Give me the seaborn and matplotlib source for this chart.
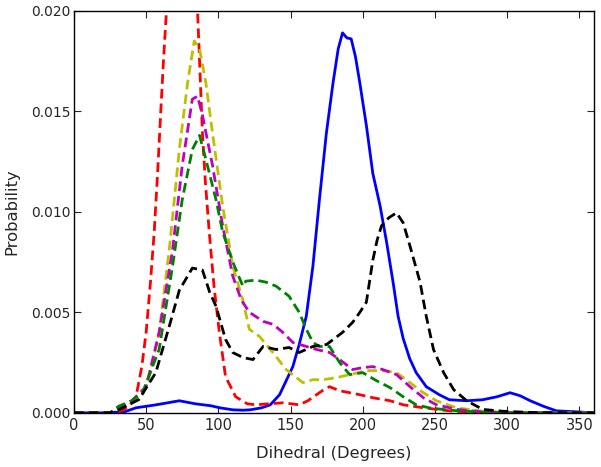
import matplotlib
matplotlib.use("Agg")
import matplotlib.pyplot as plt
import seaborn as sns
from matplotlib.ticker import FormatStrFormatter

# Dihedral angle distributions (degrees, probability)
blue_x = [0, 20, 35, 43, 57, 65, 73, 84, 95, 101, 110, 117, 122, 130, 136, 142.4, 151.6, 156,
          160.9, 165.5, 170, 174.8, 179.4, 183, 186, 189, 192, 195, 198, 202.5, 207, 212, 216.5, 221,
          224.5, 228, 232.5, 237, 244, 253, 260, 272, 283, 293, 302, 309, 316, 325, 334, 348, 360]
blue_y = [0, 0, 0.00005, 0.00025, 0.0004, 0.0005, 0.0006, 0.00045, 0.00035, 0.00025, 0.00015, 0.00013,
          0.00015, 0.00025, 0.0004, 0.0009, 0.0023, 0.0034, 0.0048, 0.0073, 0.0106, 0.0139, 0.0164,
          0.0181, 0.0189, 0.01865, 0.0186, 0.0177, 0.0164, 0.0143, 0.0119, 0.0103, 0.0085, 0.0065,
          0.0048, 0.0037, 0.0027, 0.002, 0.0013, 0.0009, 0.00065, 0.0006, 0.00065, 0.0008, 0.001,
          0.00085, 0.0006, 0.00033, 0.0001, 0.00005, 0]

red_x = [0, 25, 31, 38, 43, 47, 50, 53, 55.6, 58, 60, 62, 64, 68, 72, 76, 80, 83, 85.6, 87, 89, 91,
         93.7, 97, 100.7, 105, 112, 120, 126, 135, 145, 156, 162, 168, 172, 177, 184, 191, 198, 207,
         219, 228, 242, 260, 280, 360]
red_y = [0, 0, 0.00005, 0.0003, 0.0008, 0.0023, 0.004, 0.0065, 0.009, 0.012, 0.0148, 0.0175, 0.0199,
         0.0235, 0.0255, 0.0258, 0.0245, 0.0225, 0.02, 0.0175, 0.0139, 0.0115, 0.009, 0.0063, 0.004,
         0.0018, 0.0008, 0.00045, 0.0004, 0.00045, 0.0005, 0.0004, 0.0006, 0.0009, 0.0011, 0.0013,
         0.0011, 0.001, 0.0009, 0.00075, 0.0006, 0.0004, 0.00025, 0.0001, 0.00002, 0]

yellow_x = [0, 25, 31, 40, 47.5, 53, 59, 66, 73, 78.7, 83.3, 87, 91.4, 96, 103, 110, 117, 121.5,
            128.5, 137.8, 147, 158.6, 165.5, 172.5, 181.7, 191, 202.5, 214, 223.4, 232.7, 242, 251,
            265, 283, 300, 360]
yellow_y = [0, 0, 0.00025, 0.0005, 0.0009, 0.002, 0.004, 0.0081, 0.0131, 0.0164, 0.0185, 0.0181,
            0.0164, 0.0139, 0.0103, 0.0073, 0.0056, 0.00415, 0.0038, 0.003, 0.00215, 0.0015, 0.00165,
            0.00165, 0.00175, 0.0019, 0.0021, 0.0021, 0.002, 0.0015, 0.001, 0.0006, 0.00025, 0.00008,
            0.00002, 0]

magenta_x = [0, 25, 31, 40, 50, 59, 68.3, 75, 82, 85.6, 89, 96, 103, 110, 116, 121.5, 131, 138,
             144.7, 151.6, 161, 168, 177, 184, 193, 200, 207, 214, 223.4, 232.7, 242, 251, 265, 283,
             300, 360]
magenta_y = [0, 0, 0.00025, 0.0006, 0.0013, 0.004, 0.0081, 0.0123, 0.0156, 0.01575, 0.0148, 0.0123,
             0.0093, 0.0068, 0.0056, 0.005, 0.00455, 0.0044, 0.004, 0.0035, 0.0033, 0.00315, 0.003,
             0.00265, 0.00215, 0.00225, 0.0023, 0.00215, 0.0019, 0.0013, 0.00075, 0.0004, 0.00017,
             0.00005, 0.00001, 0]

green_x = [0, 25, 31, 40, 47.5, 59, 68.3, 75, 82, 87, 91.4, 98.4, 103, 110, 117, 119, 126, 133, 140,
           149, 156, 161, 165.5, 170, 177, 184, 191, 200, 209.5, 219, 228, 237, 246, 260, 283, 300, 360]
green_y = [0, 0, 0.00033, 0.0006, 0.001, 0.00315, 0.0073, 0.0106, 0.0131, 0.0138, 0.0126, 0.0106,
           0.009, 0.0075, 0.0063, 0.00655, 0.0066, 0.0065, 0.0063, 0.0058, 0.005, 0.00415, 0.0035,
           0.0033, 0.0033, 0.0025, 0.0019, 0.002, 0.0016, 0.00125, 0.0008, 0.0004, 0.00025, 0.00013,
           0.00003, 0.00001, 0]

black_x = [0, 25, 31, 45, 56.7, 66, 73, 82, 89, 94, 98.4, 105, 110, 117, 124, 131, 140, 149, 156,
           165.5, 175, 186, 193, 198, 202.5, 207, 210, 213, 218, 223.4, 228, 232.7, 239.7, 244, 249,
           256, 263, 272, 283, 297, 306, 320, 360]
black_y = [0, 0, 0.00015, 0.00066, 0.002, 0.0043, 0.0061, 0.0072, 0.0071, 0.006, 0.0053, 0.00365,
           0.003, 0.00275, 0.00265, 0.0033, 0.00315, 0.00325, 0.003, 0.0033, 0.0034, 0.004, 0.0045,
           0.005, 0.0055, 0.0076, 0.0086, 0.0093, 0.0097, 0.00995, 0.00945, 0.0083, 0.0065, 0.0048,
           0.00315, 0.002, 0.00115, 0.0006, 0.00017, 0.00008, 0.00005, 0.00001, 0]

sns.set_style("ticks")
plt.rcParams.update({
    "font.family": ["DejaVu Sans"],
    "xtick.direction": "in",
    "ytick.direction": "in",
    "xtick.top": True,
    "ytick.right": True,
    "xtick.major.size": 5,
    "ytick.major.size": 5,
    "xtick.major.width": 0.8,
    "ytick.major.width": 0.8,
    "axes.linewidth": 1.0,
    "axes.edgecolor": "black",
})

fig = plt.figure(figsize=(6.01, 4.67), dpi=100)
ax = fig.add_axes([0.123, 0.116, 0.865, 0.861])

dash = (0, (3.5, 1.8))
series = [
    (blue_x, blue_y, (0, 0, 1), "-"),
    (red_x, red_y, (1, 0, 0), dash),
    (yellow_x, yellow_y, (0.75, 0.75, 0), dash),
    (magenta_x, magenta_y, (0.75, 0, 0.75), dash),
    (green_x, green_y, (0, 0.5, 0), dash),
    (black_x, black_y, (0, 0, 0), dash),
]
for xs, ys, color, ls in series:
    sns.lineplot(x=xs, y=ys, color=color, linestyle=ls, linewidth=2, ax=ax)

ax.set_xlim(0, 360)
ax.set_ylim(0, 0.020)
ax.set_xticks(range(0, 351, 50))
ax.set_yticks([0, 0.005, 0.010, 0.015, 0.020])
ax.yaxis.set_major_formatter(FormatStrFormatter("%.3f"))
ax.tick_params(axis="x", labelsize=10.5, pad=4)
ax.tick_params(axis="y", labelsize=10, pad=2.5)
ax.set_xlabel("Dihedral (Degrees)", fontsize=11.8, labelpad=9)
ax.set_ylabel("Probability", fontsize=11.8, labelpad=8)

fig.savefig("out.png", dpi=100)
